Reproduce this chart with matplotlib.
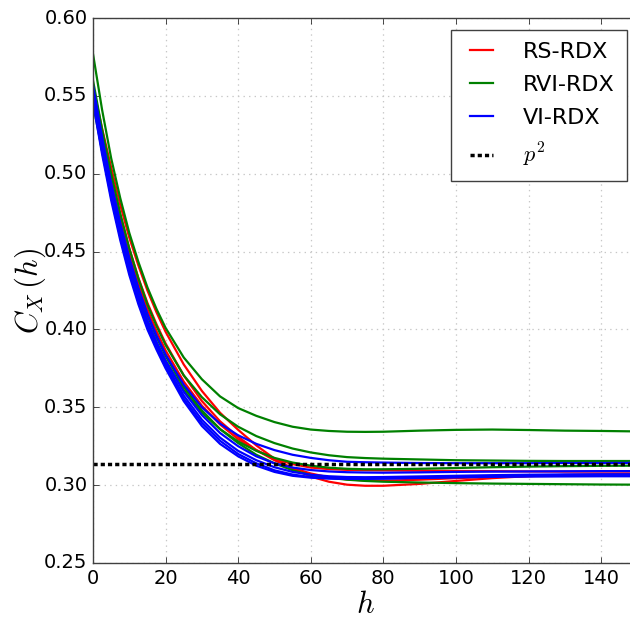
import matplotlib
matplotlib.use("Agg")
import matplotlib.pyplot as plt

# ── Data ───────────────────────────────────────────────────────────────────────
h = [0, 2.5, 5, 7.5, 10, 12.5, 15, 17.5, 20, 25, 30, 35, 40, 45, 50, 55, 60,
     65, 70, 75, 80, 90, 100, 110, 120, 130, 140, 150]

rs_rdx = [
    [0.556, 0.5291, 0.504, 0.4801, 0.459, 0.4411, 0.425, 0.4110, 0.3985, 0.3775, 0.3605, 0.3465, 0.3355,
     0.3255, 0.317, 0.3105, 0.3055,
     0.3022, 0.3003, 0.2996, 0.2996, 0.3008, 0.3027, 0.3045, 0.3058, 0.3066, 0.3070, 0.3072],
    [0.553, 0.5244, 0.498, 0.4736, 0.452, 0.4331, 0.417, 0.4033, 0.391, 0.3705, 0.354, 0.341, 0.331,
     0.3225, 0.316, 0.311, 0.3075,
     0.3050, 0.3037, 0.3030, 0.3028, 0.3035, 0.3045, 0.3053, 0.3058, 0.3060, 0.3060, 0.3060],
    [0.552, 0.5223, 0.495, 0.4700, 0.448, 0.4294, 0.413, 0.3989, 0.3865, 0.3665, 0.351, 0.339, 0.3295,
     0.3225, 0.317, 0.3135, 0.3113,
     0.3103, 0.3098, 0.3096, 0.3095, 0.3093, 0.3091, 0.3090, 0.3088, 0.3087, 0.3087, 0.3087],
]

rvi_rdx = [
    [0.577, 0.5411, 0.510, 0.4844, 0.462, 0.4434, 0.427, 0.4131, 0.401, 0.382, 0.368, 0.357, 0.3495,
     0.3445, 0.3405, 0.3375, 0.3357,
     0.3348, 0.3343, 0.3342, 0.3343, 0.3350, 0.3355, 0.3357, 0.3354, 0.3350, 0.3348, 0.3345],
    [0.560, 0.5285, 0.500, 0.4745, 0.452, 0.4327, 0.416, 0.4022, 0.390, 0.3705, 0.3565, 0.3455, 0.3375,
     0.3315, 0.327, 0.3235, 0.321,
     0.3192, 0.3180, 0.3174, 0.3170, 0.3165, 0.3160, 0.3158, 0.3156, 0.3155, 0.3155, 0.3155],
    [0.545, 0.5146, 0.487, 0.4620, 0.440, 0.4212, 0.405, 0.3917, 0.380, 0.361, 0.3465, 0.336, 0.328,
     0.322, 0.3175, 0.3145, 0.3125,
     0.3112, 0.3105, 0.3102, 0.3102, 0.3105, 0.3110, 0.3115, 0.3119, 0.3122, 0.3124, 0.3125],
    [0.552, 0.5204, 0.492, 0.4671, 0.445, 0.4257, 0.409, 0.3952, 0.383, 0.363, 0.348, 0.336, 0.327,
     0.3195, 0.314, 0.3095, 0.3065,
     0.3047, 0.3035, 0.3027, 0.3022, 0.3017, 0.3013, 0.3010, 0.3008, 0.3006, 0.3004, 0.3003],
]

vi_rdx = [
    [0.557, 0.5236, 0.494, 0.4685, 0.446, 0.4267, 0.410, 0.3962, 0.384, 0.3645, 0.350, 0.3395, 0.332,
     0.3265, 0.3225, 0.3195, 0.3175,
     0.3160, 0.3150, 0.3147, 0.3145, 0.3142, 0.3141, 0.3141, 0.3141, 0.3142, 0.3142, 0.3143],
    [0.553, 0.5196, 0.490, 0.4645, 0.442, 0.4227, 0.406, 0.3922, 0.380, 0.360, 0.345, 0.3335, 0.325,
     0.3185, 0.314, 0.3113, 0.3097,
     0.3088, 0.3083, 0.3081, 0.3080, 0.3082, 0.3085, 0.3087, 0.3088, 0.3089, 0.3090, 0.3090],
    [0.550, 0.5166, 0.487, 0.4615, 0.439, 0.4196, 0.403, 0.3899, 0.378, 0.3575, 0.342, 0.3305, 0.322,
     0.316, 0.3115, 0.3085, 0.3067,
     0.3057, 0.3052, 0.3051, 0.3052, 0.3056, 0.3060, 0.3064, 0.3067, 0.3069, 0.3070, 0.3070],
    [0.548, 0.5146, 0.485, 0.4594, 0.437, 0.4179, 0.4015, 0.3885, 0.3765, 0.3555, 0.340, 0.3285, 0.320,
     0.314, 0.3095, 0.3068, 0.3052,
     0.3045, 0.3042, 0.3042, 0.3043, 0.3048, 0.3052, 0.3056, 0.3059, 0.3061, 0.3062, 0.3063],
    [0.546, 0.5126, 0.483, 0.4574, 0.435, 0.4162, 0.400, 0.3870, 0.375, 0.354, 0.338, 0.3265, 0.3185,
     0.3125, 0.3085, 0.306, 0.3048,
     0.3042, 0.3040, 0.3040, 0.3042, 0.3046, 0.3050, 0.3053, 0.3055, 0.3056, 0.3057, 0.3057],
]

p = 0.56
x_ticks = [0, 20, 40, 60, 80, 100, 120, 140]
y_ticks = [0.25, 0.30, 0.35, 0.40, 0.45, 0.50, 0.55, 0.60]

# ── Style ──────────────────────────────────────────────────────────────────────
plt.style.use("classic")
plt.rcParams["mathtext.fontset"] = "cm"
plt.rcParams["font.family"] = ["DejaVu Sans"]
plt.rcParams["lines.scale_dashes"] = False

fig = plt.figure(figsize=(6.3, 6.19), dpi=100, facecolor="white")
ax = fig.add_axes([93 / 630, 56 / 619, 544.4 / 630, 545 / 619])
ax.set_facecolor("white")

for i, c in enumerate(rs_rdx):
    ax.plot(h, c, color="#ff0000", lw=1.6, label="RS-RDX" if i == 0 else None)
for i, c in enumerate(rvi_rdx):
    ax.plot(h, c, color="#008000", lw=1.6, label="RVI-RDX" if i == 0 else None)
for i, c in enumerate(vi_rdx):
    ax.plot(h, c, color="#0000ff", lw=1.6, label="VI-RDX" if i == 0 else None)

ax.axhline(p ** 2, color="black", lw=2.5, linestyle=(0, (3.0, 2.2)), label="$p^2$")

ax.set_xlim(0, 150)
ax.set_ylim(0.25, 0.60)
ax.set_xticks(x_ticks)
ax.set_yticks(y_ticks)
ax.set_yticklabels([f"{v:.2f}" for v in y_ticks])
ax.tick_params(labelsize=14, direction="in", top=True, right=True, length=4)
ax.grid(True, color="0.78", linestyle=":", linewidth=0.9)
ax.set_axisbelow(True)
for s in ax.spines.values():
    s.set_color("0.25")

ax.set_xlabel("$h$", fontsize=22, labelpad=2)
ax.set_ylabel("$C_X\\,(h)$", fontsize=22, labelpad=-3)

leg = ax.legend(loc="upper right", bbox_to_anchor=(627 / 630, 1 - 30 / 619),
                bbox_transform=fig.transFigure, borderaxespad=0, fontsize=16,
                handlelength=1.65, handletextpad=1.05, labelspacing=0.58,
                borderpad=0.55, fancybox=False, numpoints=2)
leg.get_frame().set_edgecolor("0.25")
leg.get_frame().set_linewidth(1.0)

fig.savefig("out.png", dpi=100, facecolor="white")
